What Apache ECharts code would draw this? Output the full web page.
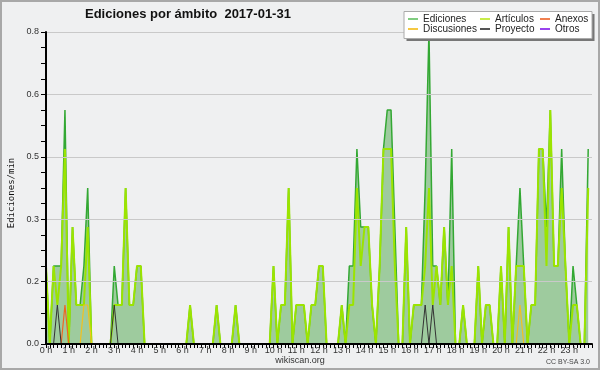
<!DOCTYPE html>
<html><head><meta charset="utf-8">
<script src="https://cdn.jsdelivr.net/npm/echarts@6/dist/echarts.min.js"></script>
<style>html,body{margin:0;padding:0;background:#eff0f1}#c{width:600px;height:370px}</style>
</head><body><div id="c"></div>
<script>
// 10-minute bins, 144 per day; values in edits per minute
const hourLabels = ['0 h','1 h','2 h','3 h','4 h','5 h','6 h','7 h','8 h','9 h','10 h','11 h','12 h','13 h','14 h','15 h','16 h','17 h','18 h','19 h','20 h','21 h','22 h','23 h'];
const yTickLabels = ['0.0','0.2','0.3','0.5','0.6','0.8'];
const binsPerHour = 6;

const ediciones = [
  0.2,0,0.2,0.2,0.2,0.6,0,0.3,0.1,0.1,0.2,0.4,
  0,0,0,0,0,0,0.2,0.1,0.1,0.4,0.1,0.1,
  0.2,0.2,0,0,0,0,0,0,0,0,0,0,
  0,0,0.1,0,0,0,0,0,0,0.1,0,0,
  0,0,0.1,0,0,0,0,0,0,0,0,0,
  0.2,0,0.1,0.1,0.4,0,0.1,0.1,0.1,0,0.1,0.1,
  0.2,0.2,0,0,0,0,0.1,0,0.2,0.2,0.5,0.3,
  0.3,0.3,0.1,0,0.2,0.5,0.6,0.6,0.3,0,0,0.3,
  0,0.1,0.1,0.1,0.4,0.8,0.2,0.2,0.1,0.3,0.1,0.5,
  0,0,0.1,0,0,0,0.2,0,0.1,0.1,0,0,
  0.2,0,0.3,0,0.2,0.4,0.2,0,0.1,0.1,0.5,0.5,
  0.3,0.6,0.2,0.2,0.5,0.2,0,0.2,0.1,0,0,0.5
];
const articulos = [
  0.2,0,0.2,0.1,0.2,0.5,0,0.3,0.1,0.1,0.1,0.3,
  0,0,0,0,0,0,0.1,0.1,0.1,0.4,0.1,0.1,
  0.2,0.2,0,0,0,0,0,0,0,0,0,0,
  0,0,0.1,0,0,0,0,0,0,0.1,0,0,
  0,0,0.1,0,0,0,0,0,0,0,0,0,
  0.2,0,0.1,0.1,0.4,0,0.1,0.1,0.1,0,0.1,0.1,
  0.2,0.2,0,0,0,0,0.1,0,0.1,0.1,0.4,0.2,
  0.3,0.3,0.1,0,0.2,0.5,0.5,0.5,0.2,0,0,0.3,
  0,0.1,0.1,0.1,0.2,0.4,0.1,0.2,0.1,0.3,0.1,0.2,
  0,0,0.1,0,0,0,0.2,0,0.1,0.1,0,0,
  0.2,0,0.3,0,0.2,0.2,0.2,0,0.1,0.1,0.5,0.5,
  0.2,0.6,0.2,0.2,0.4,0.2,0,0.1,0.1,0,0,0.4
];
const anexos = [
  0,0,0,0,0,0.1,0,0,0,0,0,0,
  0,0,0,0,0,0,0,0,0,0,0,0,
  0,0,0,0,0,0,0,0,0,0,0,0,
  0,0,0,0,0,0,0,0,0,0,0,0,
  0,0,0,0,0,0,0,0,0,0,0,0,
  0,0,0,0,0,0,0,0,0,0,0,0,
  0,0,0,0,0,0,0,0,0,0,0,0,
  0,0,0,0,0,0,0,0,0,0,0,0,
  0,0,0,0,0,0,0,0,0,0,0,0,
  0,0,0,0,0,0,0,0,0,0,0,0,
  0,0,0,0,0,0,0,0,0,0,0,0,
  0,0,0,0,0,0,0,0,0,0,0,0
];
const discusiones = [
  0,0,0,0,0,0,0,0,0,0,0.1,0.1,
  0,0,0,0,0,0,0,0,0,0,0,0,
  0,0,0,0,0,0,0,0,0,0,0,0,
  0,0,0,0,0,0,0,0,0,0,0,0,
  0,0,0,0,0,0,0,0,0,0,0,0,
  0,0,0,0,0,0,0,0,0,0,0,0,
  0,0,0,0,0,0,0,0,0,0,0,0,
  0,0,0,0,0,0,0,0,0,0,0,0,
  0,0,0,0,0,0,0,0,0,0,0,0,
  0,0,0,0,0,0,0,0,0,0,0,0,
  0,0,0,0,0,0.1,0,0,0,0,0,0,
  0,0,0,0,0,0,0,0,0,0,0,0
];
const proyecto = [
  0,0,0,0.1,0,0,0,0,0,0,0,0,
  0,0,0,0,0,0,0.1,0,0,0,0,0,
  0,0,0,0,0,0,0,0,0,0,0,0,
  0,0,0,0,0,0,0,0,0,0,0,0,
  0,0,0,0,0,0,0,0,0,0,0,0,
  0,0,0,0,0,0,0,0,0,0,0,0,
  0,0,0,0,0,0,0,0,0,0,0,0,
  0,0,0,0,0,0,0,0,0,0,0,0,
  0,0,0,0,0.1,0,0.1,0,0,0,0,0,
  0,0,0,0,0,0,0,0,0,0,0,0,
  0,0,0,0,0,0,0,0,0,0,0,0,
  0,0,0,0,0,0,0,0,0,0,0,0
];
const otros = [
  0,0,0,0,0,0,0,0,0,0,0,0,
  0,0,0,0,0,0,0,0,0,0,0,0,
  0,0,0,0,0,0,0,0,0,0,0,0,
  0,0,0,0,0,0,0,0,0,0,0,0,
  0,0,0,0,0,0,0,0,0,0,0,0,
  0,0,0,0,0,0,0,0,0,0,0,0,
  0,0,0,0,0,0,0,0,0,0,0,0,
  0,0,0,0,0,0,0,0,0,0,0,0,
  0,0,0,0,0,0,0,0,0,0,0,0,
  0,0,0,0,0,0,0,0,0,0,0,0,
  0,0,0,0,0,0,0,0,0,0,0,0,
  0,0,0,0,0,0,0,0,0,0,0,0
];

const FONT = 'Liberation Sans';
const toXY = arr => arr.map((v, i) => [i / binsPerHour, v]);
function lineSeries(name, data, color, width, z, extra) {
  return Object.assign({
    type: 'line', name: name, data: toXY(data), showSymbol: false, symbol: 'none',
    lineStyle: { color: color, width: width }, itemStyle: { color: color },
    animation: false, z: z, emphasis: { disabled: true }
  }, extra || {});
}

const legendBase = {
  orient: 'vertical', top: 14, itemWidth: 10, itemHeight: 2, itemGap: 0, icon: 'rect',
  padding: 0, z: 110, selectedMode: false,
  textStyle: { fontFamily: FONT, fontSize: 10, color: '#222', lineHeight: 10 }
};

const chart = echarts.init(document.getElementById('c'), null, { renderer: 'canvas' });
chart.setOption({
  backgroundColor: '#eff0f1',
  animation: false,
  grid: { left: 46, right: 8, top: 32, bottom: 26 },
  xAxis: {
    type: 'value', min: 0, max: 24, interval: 1, z: 10,
    axisLine: { lineStyle: { color: '#000', width: 2 } },
    axisTick: { show: true, length: 4, lineStyle: { color: '#000', width: 1 } },
    minorTick: { show: true, splitNumber: 6, length: 4, lineStyle: { color: '#000', width: 1 } },
    axisLabel: { formatter: v => hourLabels[v] || '', fontFamily: FONT, fontSize: 9, color: '#333', margin: 2, showMaxLabel: false },
    splitLine: { show: false }
  },
  yAxis: {
    type: 'value', min: 0, max: 0.8, interval: 0.16, z: 10,
    axisLine: { show: true, lineStyle: { color: '#000', width: 2 } },
    axisTick: { show: true, length: 5, lineStyle: { color: '#000' } },
    minorTick: { show: true, splitNumber: 4, length: 5, lineStyle: { color: '#000' } },
    axisLabel: { formatter: v => yTickLabels[Math.round(v / 0.16)], fontFamily: FONT, fontSize: 9, color: '#333', margin: 7 },
    splitLine: { show: true, lineStyle: { color: '#c9c9c9', width: 1 } }
  },
  legend: [
    Object.assign({}, legendBase, { left: 408, data: [
      { name: 'Ediciones', itemStyle: { color: '#80cc80' } },
      { name: 'Discusiones', itemStyle: { color: '#f5c842' } } ] }),
    Object.assign({}, legendBase, { left: 480, data: [
      { name: 'Artículos', itemStyle: { color: '#c8ec4a' } },
      { name: 'Proyecto', itemStyle: { color: '#555555' } } ] }),
    Object.assign({}, legendBase, { left: 540, data: [
      { name: 'Anexos', itemStyle: { color: '#f08050' } },
      { name: 'Otros', itemStyle: { color: '#9944ee' } } ] })
  ],
  series: [
    lineSeries('Ediciones', ediciones, '#33a833', 1.5, 2, { areaStyle: { color: '#9ecb9e', opacity: 1 } }),
    lineSeries('Artículos', articulos, '#9be400', 2, 3),
    lineSeries('Anexos', anexos, '#ee6622', 1.2, 4),
    lineSeries('Discusiones', discusiones, '#f2c020', 1.2, 4),
    lineSeries('Proyecto', proyecto, '#333333', 1, 5),
    lineSeries('Otros', otros, '#9933ee', 1, 4)
  ],
  graphic: [
    { type: 'rect', z: 200, silent: true, shape: { x: 1, y: 1, width: 598, height: 368 },
      style: { fill: 'none', stroke: '#a8a8a8', lineWidth: 2 } },
    { type: 'rect', z: 100, silent: true, shape: { x: 406.5, y: 14, width: 188, height: 27 },
      style: { fill: '#777' } },
    { type: 'rect', z: 101, silent: true, shape: { x: 404, y: 11.5, width: 188, height: 27 },
      style: { fill: '#fff', stroke: '#aaa', lineWidth: 1 } },
    { type: 'text', z: 50, silent: true,
      style: { x: 85, y: 14, text: 'Ediciones por ámbito  2017-01-31', fontFamily: FONT, fontWeight: 'bold', fontSize: 13, fill: '#111', textVerticalAlign: 'middle' } },
    { type: 'text', z: 50, silent: true, x: 12, y: 193, rotation: Math.PI / 2,
      style: { x: 0, y: 0, text: 'Ediciones/min', fontFamily: 'DejaVu Sans Mono', fontSize: 9, fill: '#111', textAlign: 'center', textVerticalAlign: 'middle' } },
    { type: 'text', z: 50, silent: true,
      style: { x: 300, y: 361, text: 'wikiscan.org', fontFamily: FONT, fontSize: 9, fill: '#333', textAlign: 'center', textVerticalAlign: 'middle' } },
    { type: 'text', z: 50, silent: true,
      style: { x: 590, y: 362, text: 'CC BY-SA 3.0', fontFamily: FONT, fontSize: 7, fill: '#444', textAlign: 'right', textVerticalAlign: 'middle' } }
  ]
});
</script>
</body></html>
